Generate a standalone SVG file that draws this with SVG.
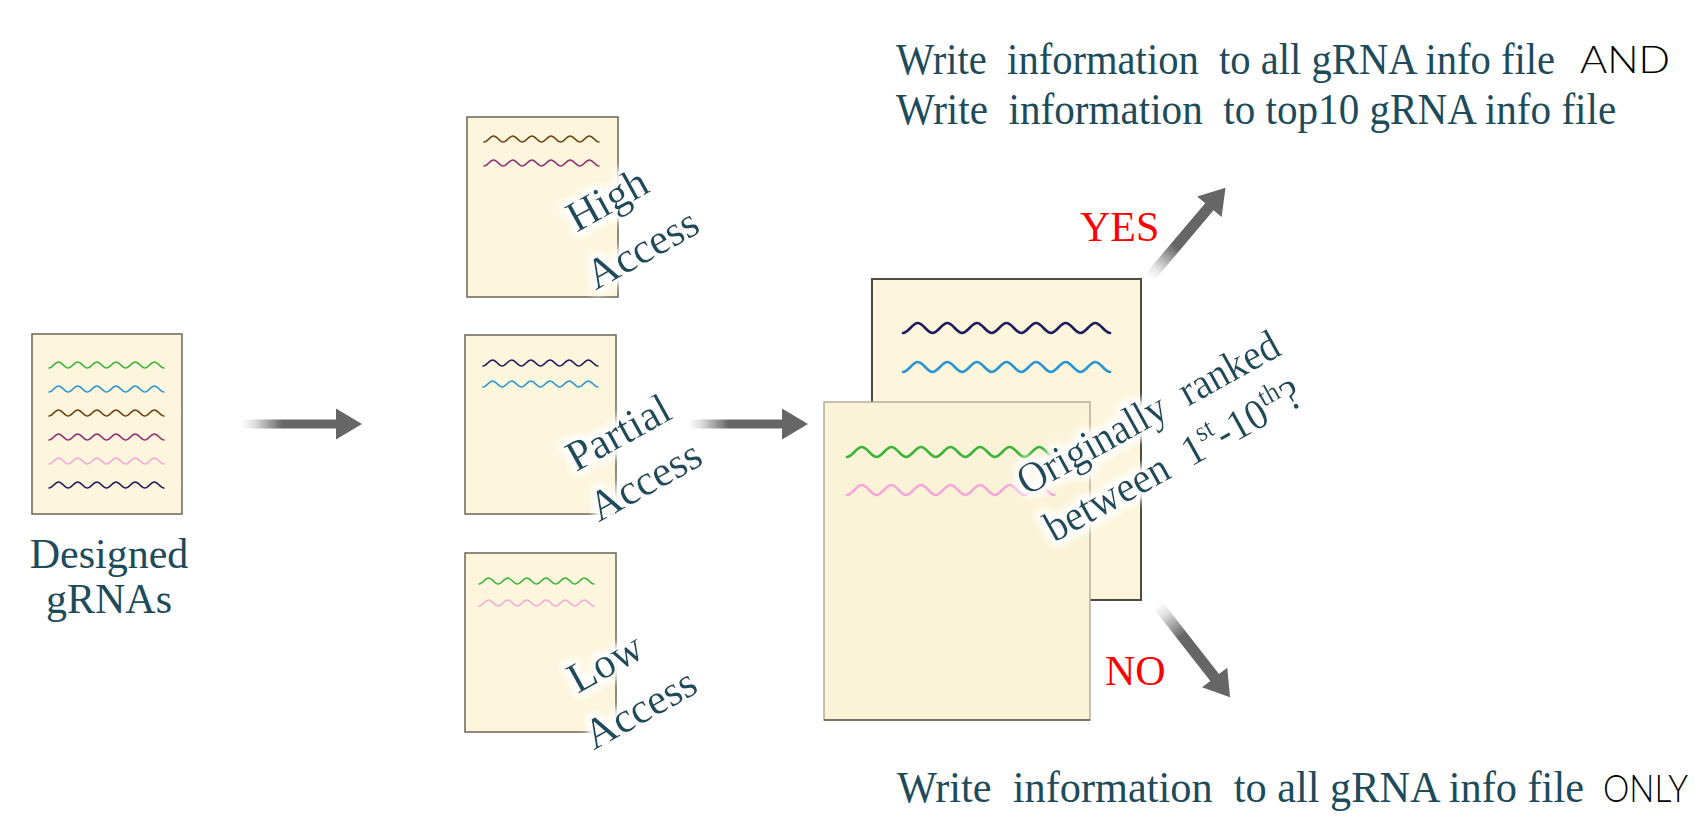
<svg xmlns="http://www.w3.org/2000/svg" width="1695" height="816" viewBox="0 0 1695 816">
  <style>
    .serif { font-family: "Liberation Serif", "Times New Roman", serif; fill: #1d4b5b; }
    .sans { font-family: Lato, "Liberation Sans", Arial, sans-serif; font-weight: 300; fill: #000; }
    .red { font-family: "Liberation Serif", "Times New Roman", serif; fill: #ff0000; font-size: 42px; }
    .doc { fill: #fdf5dc; stroke: #6b6555; stroke-width: 1.5; }
    .docBack { fill: #fdf5dc; stroke: #4e4b42; stroke-width: 2; }
    .docFront { fill: #fbf3d8; stroke: #b4ad9a; stroke-width: 1.5; }
    .ws { fill: none; stroke-width: 1.6; stroke-linecap: round; }
    .wb { fill: none; stroke-width: 2.6; stroke-linecap: round; }
    .tilt { font-size: 43px; }
    .tiltBig { font-size: 43px; }
    .arrow { fill: url(#fade); }
  </style>
  <defs>
    <!-- gray arrow fill that fades out toward the tail -->
    <linearGradient id="fade" x1="0" y1="0" x2="1" y2="0">
      <stop offset="0" stop-color="#666" stop-opacity="0"/>
      <stop offset="0.1" stop-color="#666" stop-opacity="0.2"/>
      <stop offset="0.34" stop-color="#666" stop-opacity="1"/>
      <stop offset="1" stop-color="#666" stop-opacity="1"/>
    </linearGradient>
    <!-- soft white halo behind slanted labels -->
    <filter id="halo" x="-20%" y="-60%" width="140%" height="220%">
      <feMorphology in="SourceAlpha" operator="dilate" radius="3" result="d"/>
      <feGaussianBlur in="d" stdDeviation="4" result="b"/>
      <feFlood flood-color="#ffffff" flood-opacity="0.95"/>
      <feComposite in2="b" operator="in" result="glow"/>
      <feMerge>
        <feMergeNode in="glow"/>
        <feMergeNode in="glow"/>
        <feMergeNode in="SourceGraphic"/>
      </feMerge>
    </filter>
    <!-- small sequence wave: 6 cycles, 115 wide -->
    <path id="wS" d="M0,3 c3.45,0 6.13,-6 9.58,-6 s6.13,6 9.58,6 s6.13,-6 9.58,-6 s6.13,6 9.58,6 s6.13,-6 9.58,-6 s6.13,6 9.58,6 s6.13,-6 9.58,-6 s6.13,6 9.58,6 s6.13,-6 9.58,-6 s6.13,6 9.58,6 s6.13,-6 9.58,-6 s6.13,6 9.58,6"/>
    <!-- large sequence wave: 7 cycles, 207 wide -->
    <path id="wB" d="M0,5 c5.32,0 9.47,-10 14.79,-10 s9.47,10 14.79,10 s9.47,-10 14.79,-10 s9.47,10 14.79,10 s9.47,-10 14.79,-10 s9.47,10 14.79,10 s9.47,-10 14.79,-10 s9.47,10 14.79,10 s9.47,-10 14.79,-10 s9.47,10 14.79,10 s9.47,-10 14.79,-10 s9.47,10 14.79,10 s9.47,-10 14.79,-10 s9.47,10 14.79,10"/>
    <polygon id="arrH" points="0,-4.5 94,-4.5 94,-15.5 120,0 94,15.5 94,4.5 0,4.5"/>
    <polygon id="arrD" points="0,-5.5 92,-5.5 92,-16 117,0 92,16 92,5.5 0,5.5"/>
  </defs>

  <!-- input file -->
  <g id="designed">
    <rect class="doc" x="32" y="334" width="150" height="180"/>
    <use href="#wS" class="ws" x="49" y="365" stroke="#3db33a"/>
    <use href="#wS" class="ws" x="49" y="389" stroke="#2b95d3"/>
    <use href="#wS" class="ws" x="49" y="413" stroke="#6e4210"/>
    <use href="#wS" class="ws" x="49" y="437" stroke="#8e2f74"/>
    <use href="#wS" class="ws" x="49" y="461" stroke="#f4a9d8"/>
    <use href="#wS" class="ws" x="49" y="485" stroke="#1c1c5e"/>
    <text class="serif" x="109" y="568" font-size="42" text-anchor="middle">Designed</text>
    <text class="serif" x="109" y="613" font-size="42" text-anchor="middle">gRNAs</text>
  </g>

  <!-- accessibility bins -->
  <g id="high">
    <rect class="doc" x="467" y="117" width="151" height="180"/>
    <use href="#wS" class="ws" x="484" y="139" stroke="#6e4210"/>
    <use href="#wS" class="ws" x="484" y="163" stroke="#8e2f74"/>
    <g filter="url(#halo)">
      <text class="serif tilt" text-anchor="middle" transform="translate(614,212) rotate(-29)">High</text>
      <text class="serif tilt" text-anchor="middle" transform="translate(649,261) rotate(-29)">Access</text>
    </g>
  </g>

  <g id="partial">
    <rect class="doc" x="465" y="335" width="151" height="179"/>
    <use href="#wS" class="ws" x="483" y="363" stroke="#1c1c5e"/>
    <use href="#wS" class="ws" x="483" y="384" stroke="#2b95d3"/>
    <g filter="url(#halo)">
      <text class="serif tilt" text-anchor="middle" transform="translate(625,445) rotate(-29)">Partial</text>
      <text class="serif tilt" text-anchor="middle" transform="translate(652,493) rotate(-29)">Access</text>
    </g>
  </g>

  <g id="low">
    <rect class="doc" x="465" y="553" width="151" height="179"/>
    <use href="#wS" class="ws" x="479" y="581" stroke="#3db33a"/>
    <use href="#wS" class="ws" x="479" y="603" stroke="#f4a9d8"/>
    <g filter="url(#halo)">
      <text class="serif tilt" text-anchor="middle" transform="translate(612,675) rotate(-29)">Low</text>
      <text class="serif tilt" text-anchor="middle" transform="translate(647,721) rotate(-29)">Access</text>
    </g>
  </g>

  <!-- merged, re-ranked files -->
  <g id="ranked">
    <rect class="docBack" x="872" y="279" width="269" height="321"/>
    <use href="#wB" class="wb" x="903" y="328" stroke="#1c1c5e"/>
    <use href="#wB" class="wb" x="903" y="367" stroke="#2b95d3"/>
    <rect class="docFront" x="824" y="402" width="266" height="318"/>
    <line x1="824" y1="720" x2="1090" y2="720" stroke="#5f5a4e" stroke-width="1.5"/>
    <use href="#wB" class="wb" x="847" y="452" stroke="#3db33a"/>
    <use href="#wB" class="wb" x="847" y="490" stroke="#f4a9d8"/>
  </g>

  <g id="question" filter="url(#halo)">
    <text class="serif tiltBig" text-anchor="middle" xml:space="preserve" transform="translate(1155,425) rotate(-29) scale(0.93,1)">Originally  ranked</text>
    <text class="serif tiltBig" text-anchor="middle" xml:space="preserve" transform="translate(1180,473) rotate(-29) scale(0.95,1)">between  1<tspan dy="-17" font-size="28">st</tspan><tspan dy="17">-10</tspan><tspan dy="-17" font-size="28">th</tspan><tspan dy="17">?</tspan></text>
  </g>

  <!-- outcomes -->
  <g id="outYes">
    <text class="serif" font-size="44" xml:space="preserve" transform="translate(896,74) scale(0.923,1)">Write  information  to all gRNA info file</text>
    <text class="sans" x="1580" y="73" font-size="37" textLength="90" lengthAdjust="spacingAndGlyphs">AND</text>
    <text class="serif" font-size="44" xml:space="preserve" transform="translate(896,124) scale(0.935,1)">Write  information  to top10 gRNA info file</text>
  </g>

  <g id="outNo">
    <text class="serif" font-size="44" xml:space="preserve" transform="translate(897,802) scale(0.962,1)">Write  information  to all gRNA info file</text>
    <text class="sans" x="1603" y="802" font-size="37" textLength="85" lengthAdjust="spacingAndGlyphs">ONLY</text>
  </g>

  <!-- connectors -->
  <g id="connectors">
    <use href="#arrH" class="arrow" transform="translate(242,424)"/>
    <use href="#arrH" class="arrow" transform="translate(688,424)"/>
    <use href="#arrD" class="arrow" transform="translate(1150,277) rotate(-49.8)"/>
    <use href="#arrD" class="arrow" transform="translate(1158,605) rotate(52)"/>
    <text class="red" x="1080" y="241">YES</text>
    <text class="red" x="1105" y="685">NO</text>
  </g>
</svg>
